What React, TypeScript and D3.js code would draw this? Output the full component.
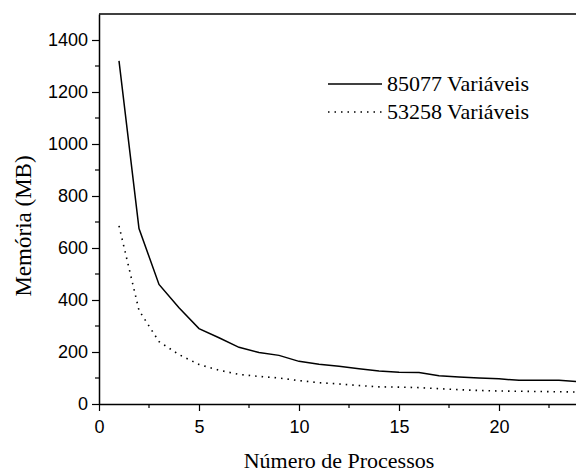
import { useEffect, useRef } from "react";
import * as d3 from "d3";

const procs = [1, 2, 3, 4, 5, 6, 7, 8, 9, 10, 11, 12, 13, 14, 15, 16, 17, 18, 19, 20, 21, 22, 23, 24];
const vars85077 = [1320, 675, 460, 370, 290, 255, 218, 198, 187, 164, 153, 145, 136, 127, 122, 121, 109, 104, 100, 97, 91, 91, 91, 86];
const vars53258 = [685, 360, 240, 190, 152, 130, 114, 106, 100, 90, 82, 77, 71, 66, 65, 63, 59, 55, 52, 50, 49, 48, 47, 46];
const xTicks = [0, 5, 10, 15, 20];
const yTicks = [0, 200, 400, 600, 800, 1000, 1200, 1400];
const legendLabels = ["85077 Variáveis", "53258 Variáveis"];

export default function App() {
  const svgRef = useRef<SVGSVGElement>(null);

  useEffect(() => {
    const W = 576;
    const svg = d3.select(svgRef.current);
    svg.selectAll("*").remove();

    const x = d3.scaleLinear().domain([0, 24]).range([99, 579]);
    const y = d3.scaleLinear().domain([0, 1500]).range([404, 14]);
    const sans = "'Liberation Sans', Arial, sans-serif";
    const serif = "'Liberation Serif', 'Times New Roman', serif";

    // frame: top line only (right side cropped)
    svg.append("line").attr("x1", x(0)).attr("x2", W).attr("y1", y(1500)).attr("y2", y(1500))
      .attr("stroke", "#000").attr("stroke-width", 1.5);

    // x axis
    const xAx = svg.append("g").attr("transform", `translate(0,${y(0)})`)
      .call(d3.axisBottom(x).tickValues(xTicks).tickFormat(d3.format("d")).tickSize(7).tickPadding(9).tickSizeOuter(0));
    xAx.append("g").selectAll("line").data(d3.range(2.5, 24, 5)).join("line")
      .attr("x1", d => x(d)).attr("x2", d => x(d)).attr("y1", 0).attr("y2", 4)
      .attr("stroke", "#000").attr("stroke-width", 1.2);

    // y axis
    const yAx = svg.append("g").attr("transform", `translate(${x(0)},0)`)
      .call(d3.axisLeft(y).tickValues(yTicks).tickFormat(d3.format("d")).tickSize(7).tickPadding(4).tickSizeOuter(0));
    yAx.append("g").selectAll("line").data(d3.range(100, 1500, 200)).join("line")
      .attr("y1", d => y(d)).attr("y2", d => y(d)).attr("x1", 0).attr("x2", -4)
      .attr("stroke", "#000").attr("stroke-width", 1.2);

    [xAx, yAx].forEach(ax => {
      ax.select(".domain").attr("stroke", "#000").attr("stroke-width", 1.5);
      ax.selectAll(".tick line").attr("stroke", "#000").attr("stroke-width", 1.2);
      ax.selectAll("text").attr("fill", "#000").attr("font-size", "18px").attr("font-family", sans);
    });

    const line = d3.line<number>().x((d, i) => x(procs[i])).y(d => y(d));
    svg.append("path").datum(vars85077).attr("fill", "none").attr("stroke", "#000")
      .attr("stroke-width", 1.5).attr("d", line);
    svg.append("path").datum(vars53258).attr("fill", "none").attr("stroke", "#000")
      .attr("stroke-width", 1.6).attr("stroke-dasharray", "1.5,5").attr("d", line);

    // legend
    const lg = svg.append("g").attr("transform", "translate(328,84)");
    legendLabels.forEach((label, i) => {
      lg.append("line").attr("x1", 0).attr("x2", 54).attr("y1", i * 28).attr("y2", i * 28)
        .attr("stroke", "#000").attr("stroke-width", 1.6)
        .attr("stroke-dasharray", i === 1 ? "1.5,5" : null);
      lg.append("text").attr("x", 59).attr("y", i * 28 + 7).text(label)
        .attr("font-family", serif).attr("font-size", "22px").attr("fill", "#000");
    });

    // axis titles
    svg.append("text").attr("x", 339).attr("y", 468).attr("text-anchor", "middle")
      .attr("font-family", serif).attr("font-size", "22px").text("Número de Processos");
    svg.append("text").attr("transform", "translate(31,226) rotate(-90)").attr("text-anchor", "middle")
      .attr("font-family", serif).attr("font-size", "23px").text("Memória (MB)");
  }, []);

  return (
    <svg ref={svgRef} width={576} height={475}
      style={{ position: "absolute", left: 0, top: 0, background: "#fff" }} />
  );
}
